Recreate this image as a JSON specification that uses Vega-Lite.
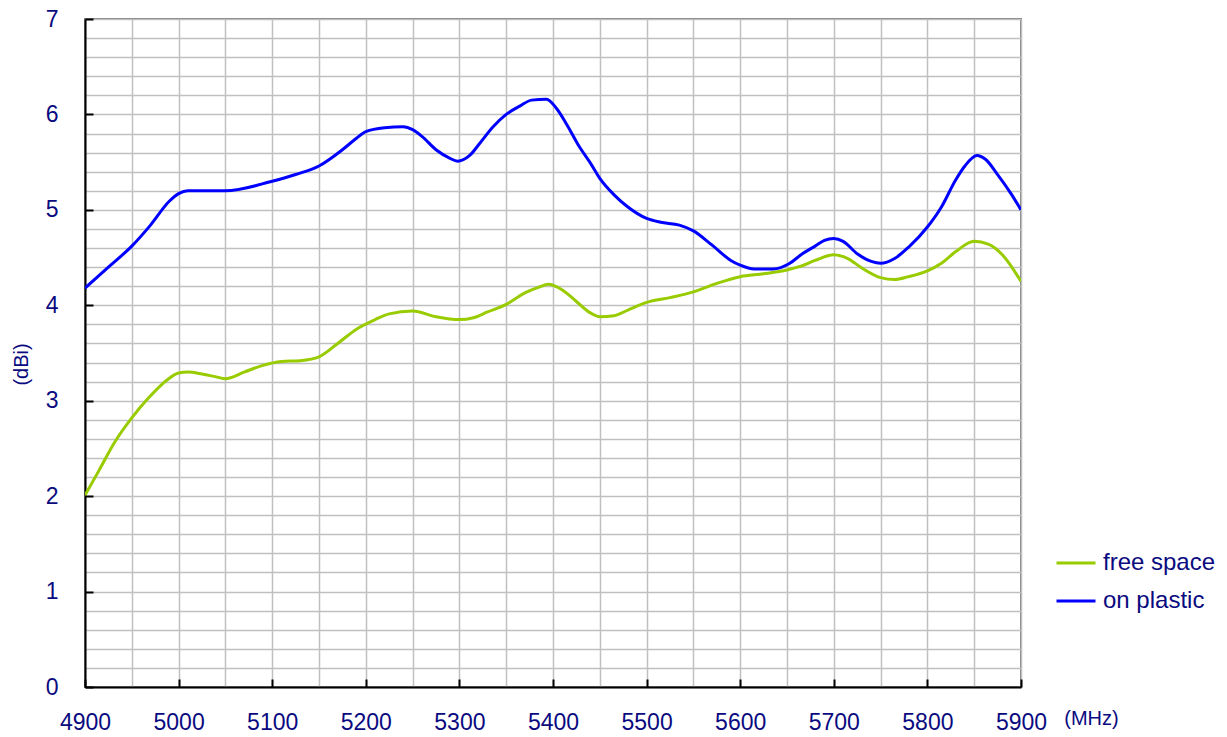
{
  "$schema": "https://vega.github.io/schema/vega-lite/v6.json",
  "autosize": "none",
  "width": 936,
  "height": 668,
  "padding": {"left": 85, "top": 19, "right": 206, "bottom": 50},
  "background": "white",
  "config": {
    "font": "Liberation Sans",
    "view": {"stroke": "#808080", "strokeWidth": 2},
    "axis": {"labelColor": "#0A0A80", "titleColor": "#0A0A80", "labelFont": "Liberation Sans", "titleFont": "Liberation Sans", "titleFontWeight": "normal"}
  },
  "datasets": {
    "gain": [
      {"f": 4900, "v": 2.01, "s": "free space"},
      {"f": 4915, "v": 2.27, "s": "free space"},
      {"f": 4932, "v": 2.57, "s": "free space"},
      {"f": 4950, "v": 2.82, "s": "free space"},
      {"f": 4968, "v": 3.03, "s": "free space"},
      {"f": 4988, "v": 3.22, "s": "free space"},
      {"f": 5000, "v": 3.29, "s": "free space"},
      {"f": 5010, "v": 3.30, "s": "free space"},
      {"f": 5025, "v": 3.28, "s": "free space"},
      {"f": 5040, "v": 3.25, "s": "free space"},
      {"f": 5050, "v": 3.23, "s": "free space"},
      {"f": 5070, "v": 3.30, "s": "free space"},
      {"f": 5090, "v": 3.37, "s": "free space"},
      {"f": 5110, "v": 3.41, "s": "free space"},
      {"f": 5130, "v": 3.42, "s": "free space"},
      {"f": 5150, "v": 3.46, "s": "free space"},
      {"f": 5170, "v": 3.60, "s": "free space"},
      {"f": 5190, "v": 3.75, "s": "free space"},
      {"f": 5210, "v": 3.85, "s": "free space"},
      {"f": 5225, "v": 3.91, "s": "free space"},
      {"f": 5250, "v": 3.94, "s": "free space"},
      {"f": 5275, "v": 3.88, "s": "free space"},
      {"f": 5300, "v": 3.85, "s": "free space"},
      {"f": 5315, "v": 3.87, "s": "free space"},
      {"f": 5330, "v": 3.93, "s": "free space"},
      {"f": 5350, "v": 4.01, "s": "free space"},
      {"f": 5370, "v": 4.13, "s": "free space"},
      {"f": 5385, "v": 4.19, "s": "free space"},
      {"f": 5395, "v": 4.22, "s": "free space"},
      {"f": 5410, "v": 4.16, "s": "free space"},
      {"f": 5425, "v": 4.04, "s": "free space"},
      {"f": 5440, "v": 3.92, "s": "free space"},
      {"f": 5450, "v": 3.88, "s": "free space"},
      {"f": 5465, "v": 3.89, "s": "free space"},
      {"f": 5480, "v": 3.95, "s": "free space"},
      {"f": 5500, "v": 4.03, "s": "free space"},
      {"f": 5525, "v": 4.08, "s": "free space"},
      {"f": 5550, "v": 4.14, "s": "free space"},
      {"f": 5575, "v": 4.23, "s": "free space"},
      {"f": 5600, "v": 4.30, "s": "free space"},
      {"f": 5625, "v": 4.33, "s": "free space"},
      {"f": 5650, "v": 4.37, "s": "free space"},
      {"f": 5665, "v": 4.41, "s": "free space"},
      {"f": 5680, "v": 4.47, "s": "free space"},
      {"f": 5700, "v": 4.53, "s": "free space"},
      {"f": 5715, "v": 4.49, "s": "free space"},
      {"f": 5730, "v": 4.39, "s": "free space"},
      {"f": 5750, "v": 4.29, "s": "free space"},
      {"f": 5765, "v": 4.27, "s": "free space"},
      {"f": 5780, "v": 4.30, "s": "free space"},
      {"f": 5800, "v": 4.36, "s": "free space"},
      {"f": 5815, "v": 4.44, "s": "free space"},
      {"f": 5830, "v": 4.56, "s": "free space"},
      {"f": 5850, "v": 4.67, "s": "free space"},
      {"f": 5865, "v": 4.64, "s": "free space"},
      {"f": 5880, "v": 4.53, "s": "free space"},
      {"f": 5900, "v": 4.25, "s": "free space"},
      {"f": 4900, "v": 4.18, "s": "on plastic"},
      {"f": 4925, "v": 4.40, "s": "on plastic"},
      {"f": 4950, "v": 4.62, "s": "on plastic"},
      {"f": 4970, "v": 4.84, "s": "on plastic"},
      {"f": 4990, "v": 5.09, "s": "on plastic"},
      {"f": 5000, "v": 5.17, "s": "on plastic"},
      {"f": 5010, "v": 5.20, "s": "on plastic"},
      {"f": 5050, "v": 5.20, "s": "on plastic"},
      {"f": 5100, "v": 5.30, "s": "on plastic"},
      {"f": 5125, "v": 5.37, "s": "on plastic"},
      {"f": 5150, "v": 5.46, "s": "on plastic"},
      {"f": 5175, "v": 5.63, "s": "on plastic"},
      {"f": 5190, "v": 5.75, "s": "on plastic"},
      {"f": 5200, "v": 5.82, "s": "on plastic"},
      {"f": 5220, "v": 5.86, "s": "on plastic"},
      {"f": 5240, "v": 5.87, "s": "on plastic"},
      {"f": 5250, "v": 5.84, "s": "on plastic"},
      {"f": 5260, "v": 5.77, "s": "on plastic"},
      {"f": 5275, "v": 5.63, "s": "on plastic"},
      {"f": 5290, "v": 5.54, "s": "on plastic"},
      {"f": 5298, "v": 5.51, "s": "on plastic"},
      {"f": 5311, "v": 5.57, "s": "on plastic"},
      {"f": 5322, "v": 5.70, "s": "on plastic"},
      {"f": 5336, "v": 5.87, "s": "on plastic"},
      {"f": 5350, "v": 6.00, "s": "on plastic"},
      {"f": 5365, "v": 6.09, "s": "on plastic"},
      {"f": 5377, "v": 6.15, "s": "on plastic"},
      {"f": 5393, "v": 6.16, "s": "on plastic"},
      {"f": 5404, "v": 6.06, "s": "on plastic"},
      {"f": 5415, "v": 5.89, "s": "on plastic"},
      {"f": 5427, "v": 5.68, "s": "on plastic"},
      {"f": 5440, "v": 5.49, "s": "on plastic"},
      {"f": 5450, "v": 5.33, "s": "on plastic"},
      {"f": 5465, "v": 5.16, "s": "on plastic"},
      {"f": 5480, "v": 5.03, "s": "on plastic"},
      {"f": 5500, "v": 4.91, "s": "on plastic"},
      {"f": 5515, "v": 4.87, "s": "on plastic"},
      {"f": 5535, "v": 4.84, "s": "on plastic"},
      {"f": 5550, "v": 4.78, "s": "on plastic"},
      {"f": 5570, "v": 4.63, "s": "on plastic"},
      {"f": 5590, "v": 4.47, "s": "on plastic"},
      {"f": 5600, "v": 4.42, "s": "on plastic"},
      {"f": 5615, "v": 4.38, "s": "on plastic"},
      {"f": 5635, "v": 4.38, "s": "on plastic"},
      {"f": 5653, "v": 4.44, "s": "on plastic"},
      {"f": 5665, "v": 4.53, "s": "on plastic"},
      {"f": 5680, "v": 4.62, "s": "on plastic"},
      {"f": 5690, "v": 4.68, "s": "on plastic"},
      {"f": 5700, "v": 4.70, "s": "on plastic"},
      {"f": 5710, "v": 4.67, "s": "on plastic"},
      {"f": 5725, "v": 4.54, "s": "on plastic"},
      {"f": 5740, "v": 4.46, "s": "on plastic"},
      {"f": 5750, "v": 4.44, "s": "on plastic"},
      {"f": 5765, "v": 4.49, "s": "on plastic"},
      {"f": 5780, "v": 4.61, "s": "on plastic"},
      {"f": 5800, "v": 4.82, "s": "on plastic"},
      {"f": 5815, "v": 5.03, "s": "on plastic"},
      {"f": 5830, "v": 5.31, "s": "on plastic"},
      {"f": 5840, "v": 5.46, "s": "on plastic"},
      {"f": 5853, "v": 5.57, "s": "on plastic"},
      {"f": 5862, "v": 5.53, "s": "on plastic"},
      {"f": 5875, "v": 5.37, "s": "on plastic"},
      {"f": 5890, "v": 5.16, "s": "on plastic"},
      {"f": 5900, "v": 5.00, "s": "on plastic"}
    ]
  },
  "data": {"name": "gain"},
  "mark": {"type": "line", "strokeWidth": 3, "interpolate": "monotone", "clip": true},
  "encoding": {
    "x": {
      "field": "f",
      "type": "quantitative",
      "scale": {"domain": [4900, 5900], "nice": false, "zero": false},
      "axis": {
        "values": [4900, 4950, 5000, 5050, 5100, 5150, 5200, 5250, 5300, 5350, 5400, 5450, 5500, 5550, 5600, 5650, 5700, 5750, 5800, 5850, 5900],
        "labelExpr": "datum.value % 100 === 0 ? format(datum.value, 'd') : ''",
        "labelFlush": false,
        "labelOverlap": false,
        "labelFontSize": 23,
        "labelPadding": 32,
        "tickSize": -8,
        "tickWidth": 2,
        "tickColor": "black",
        "tickOpacity": {"condition": {"test": "datum.value % 100 === 0", "value": 1}, "value": 0},
        "domainColor": "black",
        "domainWidth": 2,
        "grid": true,
        "gridColor": "#C0C0C0",
        "gridWidth": 1.5,
        "gridOpacity": 1,
        "title": "(MHz)",
        "titleFontSize": 20,
        "titleX": 1006,
        "titleY": 31,
        "titleAlign": "center",
        "titleBaseline": "middle"
      }
    },
    "y": {
      "field": "v",
      "type": "quantitative",
      "scale": {"domain": [0, 7], "nice": false},
      "axis": {
        "values": [0, 0.2, 0.4, 0.6, 0.8, 1, 1.2, 1.4, 1.6, 1.8, 2, 2.2, 2.4, 2.6, 2.8, 3, 3.2, 3.4, 3.6, 3.8, 4, 4.2, 4.4, 4.6, 4.8, 5, 5.2, 5.4, 5.6, 5.8, 6, 6.2, 6.4, 6.6, 6.8, 7],
        "labelExpr": "datum.value === round(datum.value) ? format(datum.value, 'd') : ''",
        "labelOverlap": false,
        "labelFlush": false,
        "labelFontSize": 23,
        "labelPadding": 35,
        "tickSize": -8,
        "tickWidth": 2,
        "tickColor": "black",
        "tickOpacity": {"condition": {"test": "datum.value === round(datum.value)", "value": 1}, "value": 0},
        "domainColor": "black",
        "domainWidth": 2,
        "grid": true,
        "gridColor": "#C0C0C0",
        "gridWidth": 1.5,
        "gridOpacity": 1,
        "title": "(dBi)",
        "titleFontSize": 20,
        "titleAngle": 270,
        "titleX": -64,
        "titleY": 345,
        "titleAlign": "center",
        "titleBaseline": "middle"
      }
    },
    "color": {
      "field": "s",
      "type": "nominal",
      "scale": {"domain": ["free space", "on plastic"], "range": ["#99CC00", "#0000FF"]},
      "legend": {
        "title": null,
        "orient": "none",
        "legendX": 970,
        "legendY": 523,
        "padding": 0,
        "symbolType": "stroke",
        "symbolSize": 1521,
        "symbolStrokeWidth": 3,
        "rowPadding": 5,
        "labelOffset": 6,
        "labelFontSize": 24,
        "labelFont": "Liberation Sans",
        "labelColor": "#0A0A80"
      }
    }
  }
}
